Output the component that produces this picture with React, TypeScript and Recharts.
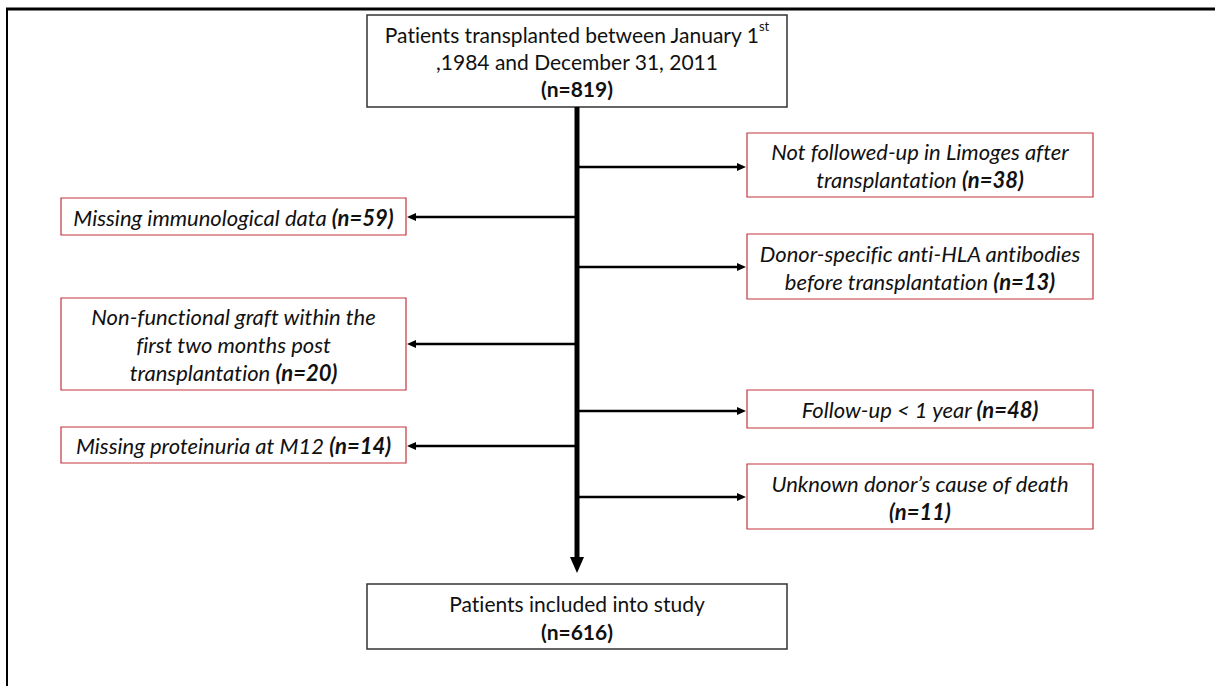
import { ComposedChart, XAxis, YAxis, ReferenceArea, ReferenceLine, Scatter } from "recharts";

const W = 1215;
const H = 686;

// patient counts along the flow
const startCount = 819;
const finalCount = 616;
const startLines = ["Patients transplanted between January 1", ",1984 and December 31, 2011"];
const finalLines = ["Patients included into study"];

// exclusion boxes, top to bottom
const exclusionLines = [
  ["Not followed-up in Limoges after", "transplantation"],
  ["Missing immunological data"],
  ["Donor-specific anti-HLA antibodies", "before transplantation"],
  ["Non-functional  graft  within the", "first two months post", "transplantation"],
  ["Follow-up < 1 year"],
  ["Missing proteinuria at M12"],
  ["Unknown donor\u2019s cause of death", ""],
];
const exclusionCounts = [38, 59, 13, 20, 48, 14, 11];
const exclusionSide = ["right", "left", "right", "left", "right", "left", "right"];

// layout (diagram units = pixels)
const spineX = 577;
const spineTop = 107;
const spineTip = 573;
const branchY = [167, 217, 267, 344, 411, 446, 497];
const boxTop = [133, 198, 234, 298, 390, 427, 464];
const boxBottom = [197, 235, 299, 390, 428, 463, 529];
const leftBoxX = [61, 406];
const rightBoxX = [747, 1093];
const startBox = [367, 787, 15, 107];
const finalBox = [367, 787, 584, 649];

const FONT = "Lato, 'Open Sans', sans-serif";
const RED = "#c4343c";

type Part = { t: string; bold?: boolean; sup?: boolean };

function BoxText(props: any) {
  const { viewBox, lines, italic, lineHeight } = props;
  const cx = viewBox.x + viewBox.width / 2;
  const cy = viewBox.y + viewBox.height / 2;
  const n = lines.length;
  return (
    <g>
      {lines.map((parts: Part[], i: number) => (
        <text
          key={i}
          x={cx}
          y={cy + (i - (n - 1) / 2) * lineHeight}
          textAnchor="middle"
          dominantBaseline="central"
          fontFamily={FONT}
          fontSize={italic ? 22 : 21}
          fontStyle={italic ? "italic" : "normal"}
          fill="#111"
          style={{ fontVariantLigatures: "none" }}
        >
          {parts.map((p, j) =>
            p.sup ? (
              <tspan key={j} fontSize={13} dy={-8}>
                {p.t}
              </tspan>
            ) : (
              <tspan key={j} fontWeight={p.bold ? "bold" : "normal"}>
                {p.t}
              </tspan>
            )
          )}
        </text>
      ))}
    </g>
  );
}

function withCount(lines: string[], count: number): Part[][] {
  return lines.map((l, i) => {
    if (i < lines.length - 1) return [{ t: l }];
    const tag = `(n=${count})`;
    return l ? [{ t: l + " " }, { t: tag, bold: true }] : [{ t: tag, bold: true }];
  });
}

function ArrowHead(props: any) {
  const { cx, cy, payload } = props;
  if (payload.dir === "down") {
    return <polygon points={`${cx - 7},${cy - 16} ${cx + 7},${cy - 16} ${cx},${cy}`} fill="#000" />;
  }
  const s = payload.dir === "right" ? -1 : 1;
  return <polygon points={`${cx},${cy} ${cx + s * 9},${cy - 4} ${cx + s * 9},${cy + 4}`} fill="#000" />;
}

export default function App() {
  const tips = exclusionSide.map((side, i) => ({
    x: side === "right" ? rightBoxX[0] - 1 : leftBoxX[1] + 1,
    y: branchY[i],
    dir: side,
  }));
  tips.push({ x: spineX, y: spineTip, dir: "down" });

  const startText: Part[][] = [
    [{ t: startLines[0] }, { t: "st", sup: true }],
    [{ t: startLines[1] }],
    [{ t: `(n=${startCount})`, bold: true }],
  ];
  const finalText: Part[][] = [[{ t: finalLines[0] }], [{ t: `(n=${finalCount})`, bold: true }]];

  return (
    <div style={{ position: "absolute", left: 0, top: 0, width: W, height: H, background: "#fff" }}>
      <ComposedChart width={W} height={H} margin={{ top: 0, right: 0, bottom: 0, left: 0 }}>
        <XAxis type="number" dataKey="x" domain={[0, W]} allowDataOverflow hide />
        <YAxis type="number" dataKey="y" domain={[0, H]} allowDataOverflow reversed hide />

        {/* frame */}
        <ReferenceLine segment={[{ x: 6, y: 9 }, { x: W, y: 9 }]} stroke="#000" strokeWidth={3} ifOverflow="visible" />
        <ReferenceLine segment={[{ x: 7, y: 8 }, { x: 7, y: H }]} stroke="#000" strokeWidth={2} ifOverflow="visible" />

        {/* spine */}
        <ReferenceLine
          segment={[{ x: spineX, y: spineTop }, { x: spineX, y: spineTip - 15 }]}
          stroke="#000"
          strokeWidth={5}
        />

        {/* branches */}
        {tips.slice(0, exclusionSide.length).map((t, i) => (
          <ReferenceLine
            key={`b-${i}`}
            segment={[{ x: spineX, y: t.y }, { x: t.dir === "right" ? t.x - 8 : t.x + 8, y: t.y }]}
            stroke="#000"
            strokeWidth={2.5}
          />
        ))}

        {/* boxes */}
        <ReferenceArea
          x1={startBox[0]}
          x2={startBox[1]}
          y1={startBox[2]}
          y2={startBox[3]}
          fill="#fff"
          fillOpacity={1}
          stroke="#333"
          strokeWidth={1.5}
          label={<BoxText lines={startText} lineHeight={27} />}
        />
        <ReferenceArea
          x1={finalBox[0]}
          x2={finalBox[1]}
          y1={finalBox[2]}
          y2={finalBox[3]}
          fill="#fff"
          fillOpacity={1}
          stroke="#333"
          strokeWidth={1.5}
          label={<BoxText lines={finalText} lineHeight={28} />}
        />
        {exclusionLines.map((lines, i) => {
          const xs = exclusionSide[i] === "right" ? rightBoxX : leftBoxX;
          return (
            <ReferenceArea
              key={`e-${i}`}
              x1={xs[0]}
              x2={xs[1]}
              y1={boxTop[i]}
              y2={boxBottom[i]}
              fill="#fff"
              fillOpacity={1}
              stroke={RED}
              strokeWidth={1.2}
              label={<BoxText lines={withCount(lines, exclusionCounts[i])} italic lineHeight={28} />}
            />
          );
        })}

        <Scatter data={tips} dataKey="y" shape={<ArrowHead />} isAnimationActive={false} />
      </ComposedChart>
    </div>
  );
}
